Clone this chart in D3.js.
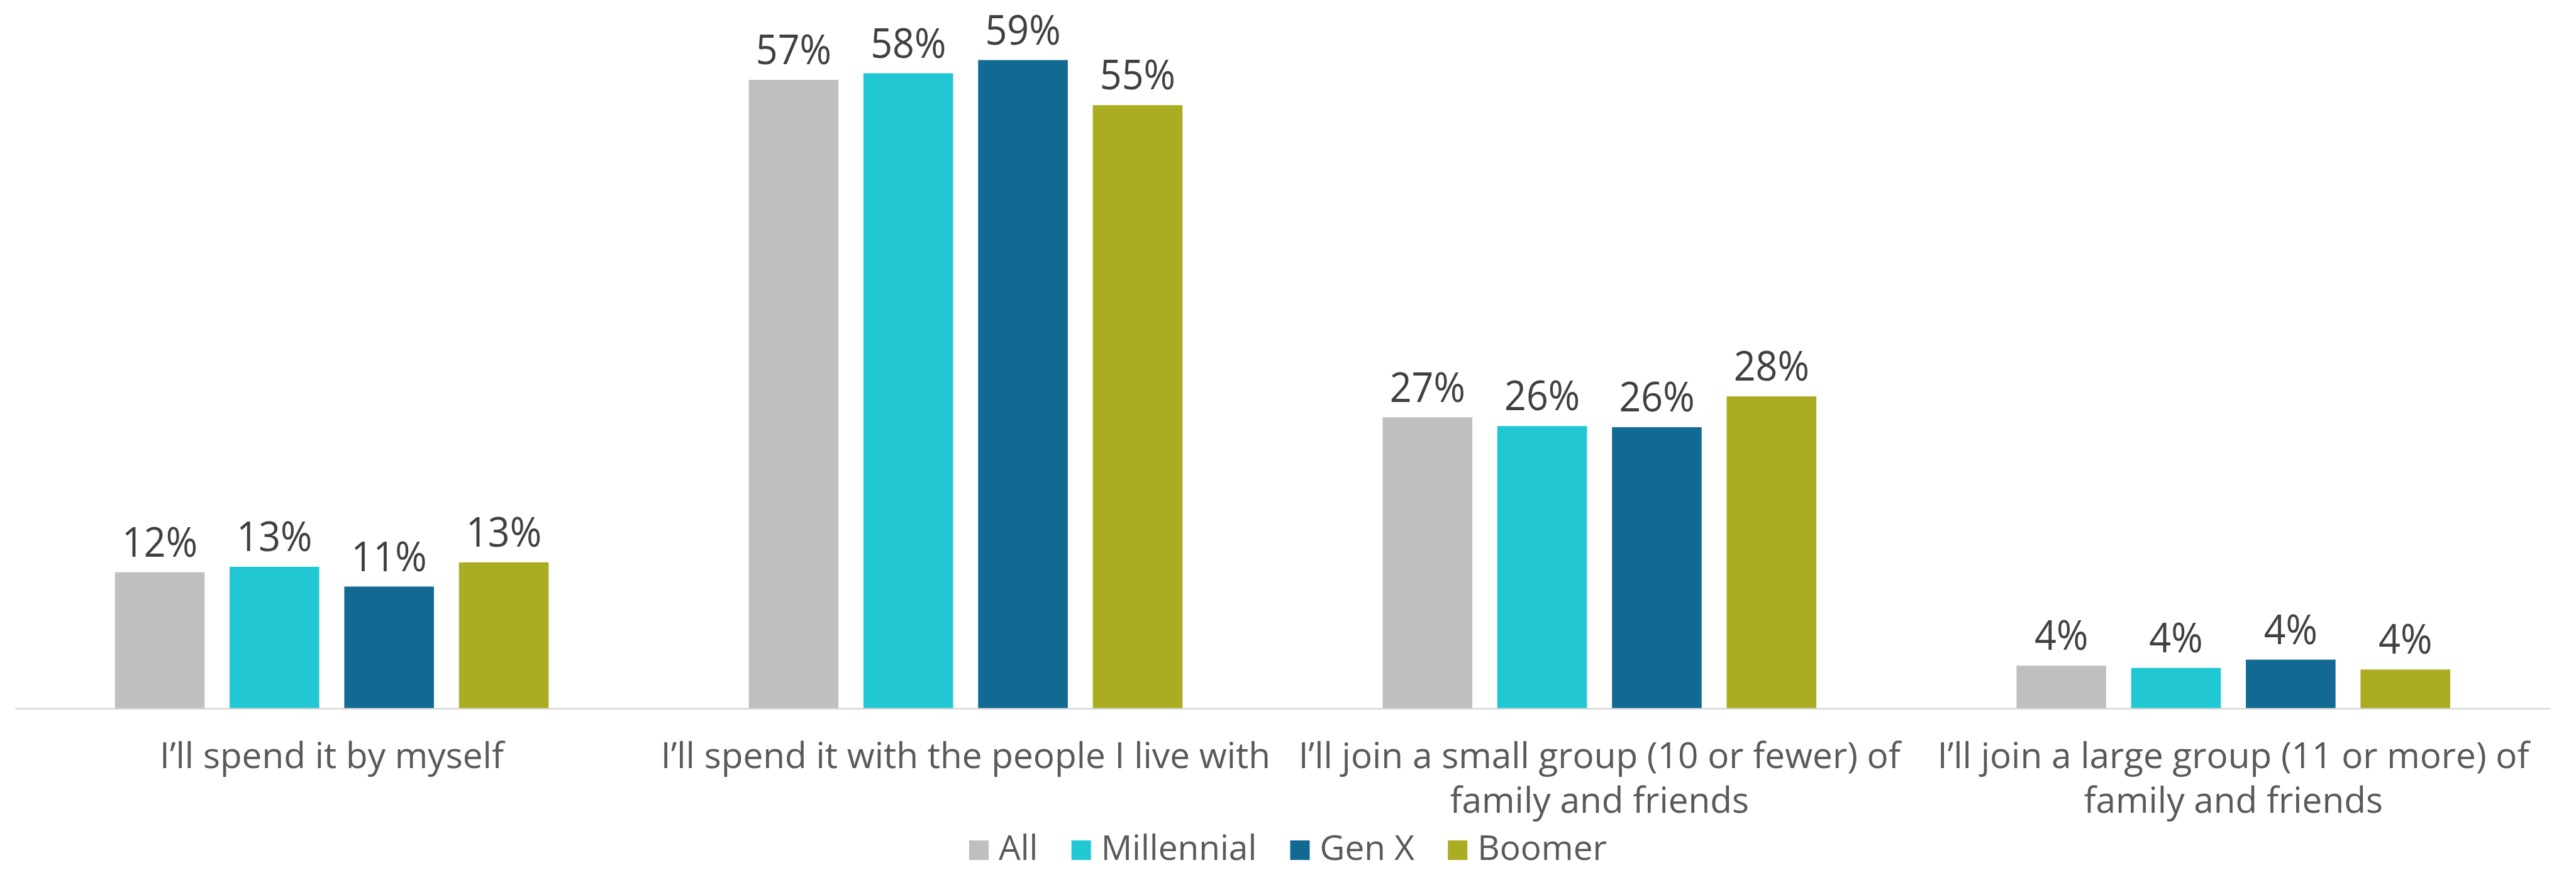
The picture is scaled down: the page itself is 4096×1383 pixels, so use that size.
<!DOCTYPE html>
<html>
<head>
<meta charset="utf-8">
<script src="https://cdn.jsdelivr.net/npm/d3@7"></script>
<style>
  html, body { margin: 0; padding: 0; background: #fff; }
  svg { display: block; }
  text { font-family: "Open Sans", Lato, sans-serif; }
</style>
</head>
<body>
<svg width="4096" height="1383" viewBox="0 0 4620 1560"></svg>
<script>
// category labels, one entry per line as wrapped in the original
const categoryLines = [
  ["I\u2019ll spend it by myself"],
  ["I\u2019ll spend it with the people I live with"],
  ["I\u2019ll join a small group (10 or fewer) of", "family and friends"],
  ["I\u2019ll join a large group (11 or more) of", "family and friends"],
];
const categories = categoryLines.map((l) => l.join(" "));

const series = ["All", "Millennial", "Gen X", "Boomer"];
const colors = ["#BFBFBF", "#21C8D3", "#126A94", "#AAAD21"];

// percent values, per series, in category order
const allValues = [12.4, 57.2, 26.5, 3.9];
const millennialValues = [12.9, 57.8, 25.7, 3.7];
const genXValues = [11.1, 59.0, 25.6, 4.45];
const boomerValues = [13.3, 54.9, 28.4, 3.55];
const valuesBySeries = [allValues, millennialValues, genXValues, boomerValues];

const svg = d3.select("svg");
const plot = { left: 26.5, right: 4574, top: 88, bottom: 1270.5 };
const groupPad = 179.5;

const x0 = d3.scaleBand().domain(categories).range([plot.left, plot.right]);
const x1 = d3
  .scaleBand()
  .domain(series)
  .range([groupPad, x0.bandwidth() - groupPad])
  .paddingInner(0.218);
const y = d3.scaleLinear().domain([0, 60]).range([plot.bottom, plot.top]);
const color = d3.scaleOrdinal().domain(series).range(colors);

const rows = categories.map((c, i) => ({
  category: c,
  bars: series.map((s, j) => ({ series: s, value: valuesBySeries[j][i] })),
}));

const groups = svg
  .selectAll("g.group")
  .data(rows)
  .enter()
  .append("g")
  .attr("class", "group")
  .attr("transform", (d) => `translate(${x0(d.category)},0)`);

groups
  .selectAll("rect")
  .data((d) => d.bars)
  .enter()
  .append("rect")
  .attr("x", (d) => x1(d.series))
  .attr("y", (d) => y(d.value))
  .attr("width", x1.bandwidth())
  .attr("height", (d) => y(0) - y(d.value))
  .attr("fill", (d) => color(d.series));

// data labels, a bit narrower than the font to match the original
groups
  .selectAll("text.value")
  .data((d) => d.bars)
  .enter()
  .append("text")
  .attr("class", "value")
  .attr("text-anchor", "middle")
  .attr("font-size", 74)
  .attr("fill", "#404040")
  .attr(
    "transform",
    (d) =>
      `translate(${x1(d.series) + x1.bandwidth() / 2},${y(d.value) - 28}) scale(0.93,1)`
  )
  .text((d) => Math.round(d.value) + "%");

// baseline axis
const axisG = svg
  .append("g")
  .attr("transform", `translate(0,${plot.bottom})`)
  .call(d3.axisBottom(x0).tickSize(0).tickSizeOuter(0).tickFormat(""));
axisG.select(".domain").attr("stroke", "#D9D9D9").attr("stroke-width", 3);

// category labels
const catText = svg
  .selectAll("text.cat")
  .data(categories)
  .enter()
  .append("text")
  .attr("class", "cat")
  .attr("text-anchor", "middle")
  .attr("font-size", 64)
  .attr("fill", "#595959")
  .attr("transform", (d) => `translate(${x0(d) + x0.bandwidth() / 2},1377)`);

catText
  .selectAll("tspan")
  .data((d, i) => categoryLines[i])
  .enter()
  .append("tspan")
  .attr("x", 0)
  .attr("y", (d, i) => i * 80)
  .text((d) => d);

// legend
const legend = svg.append("g").attr("class", "legend");
const sq = 35;
let lx = 0;
series.forEach((s) => {
  const item = legend.append("g").attr("transform", `translate(${lx},0)`);
  item
    .append("rect")
    .attr("y", 1507)
    .attr("width", sq)
    .attr("height", sq)
    .attr("fill", color(s));
  const t = item
    .append("text")
    .attr("x", sq + 18)
    .attr("y", 1542)
    .attr("font-size", 62)
    .attr("fill", "#595959")
    .text(s);
  lx += sq + 18 + t.node().getComputedTextLength() + 60;
});
const legendWidth = lx - 60;
legend.attr("transform", `translate(${2310 - legendWidth / 2},0)`);
</script>
</body>
</html>
